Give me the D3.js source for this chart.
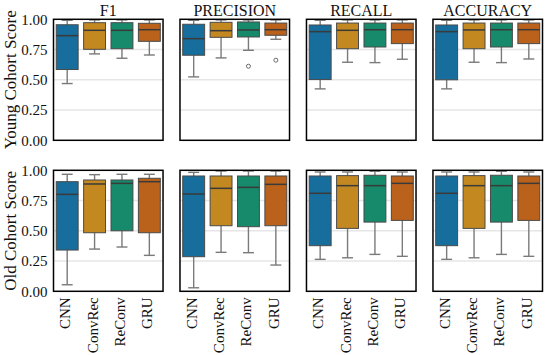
<!DOCTYPE html>
<html><head><meta charset="utf-8">
<script src="https://cdn.jsdelivr.net/npm/d3@7"></script>
<style>html,body{margin:0;padding:0;background:#fff;}</style>
</head><body>
<svg id="c" width="550" height="355"></svg>
<script>
const models = ["CNN", "ConvRec", "ReConv", "GRU"];
const metrics = ["F1", "PRECISION", "RECALL", "ACCURACY"];
const rowLabels = ["Young Cohort Score", "Old Cohort Score"];
const yTicks = [0, 0.25, 0.5, 0.75, 1.0];
const colors = ["#176d9c", "#c38820", "#168a6a", "#ba611b"];
// each entry: [whiskerLow, q1, median, q3, whiskerHigh]
const youngF1 = [[0.469,0.585,0.865,0.955,0.992],[0.714,0.752,0.909,0.972,0.995],[0.678,0.757,0.909,0.972,0.995],[0.705,0.818,0.914,0.967,0.995]];
const youngPrecision = [[0.524,0.703,0.840,0.959,0.992],[0.681,0.851,0.906,0.975,0.995],[0.744,0.854,0.912,0.978,0.995],[0.835,0.868,0.914,0.969,0.995]];
const youngRecall = [[0.425,0.502,0.898,0.953,0.992],[0.645,0.757,0.909,0.969,0.995],[0.642,0.771,0.914,0.969,0.995],[0.670,0.799,0.914,0.969,0.995]];
const youngAccuracy = [[0.425,0.500,0.898,0.953,0.992],[0.645,0.757,0.912,0.969,0.995],[0.642,0.771,0.914,0.969,0.995],[0.672,0.799,0.914,0.969,0.995]];
const oldF1 = [[0.054,0.341,0.801,0.906,0.967],[0.349,0.484,0.887,0.920,0.964],[0.366,0.500,0.892,0.920,0.967],[0.297,0.484,0.906,0.934,0.967]];
const oldPrecision = [[0.029,0.286,0.804,0.953,0.983],[0.322,0.542,0.851,0.953,0.994],[0.319,0.534,0.859,0.953,0.994],[0.217,0.542,0.884,0.953,0.994]];
const oldRecall = [[0.264,0.377,0.810,0.953,0.986],[0.277,0.520,0.873,0.956,0.986],[0.305,0.572,0.873,0.959,0.992],[0.289,0.586,0.892,0.953,0.986]];
const oldAccuracy = [[0.264,0.377,0.810,0.953,0.986],[0.277,0.520,0.873,0.956,0.986],[0.305,0.572,0.873,0.959,0.992],[0.289,0.586,0.892,0.953,0.986]];
const youngPrecisionOutliers = [[], [], [0.612], [0.662]];
const noOutliers = [[], [], [], []];

const rows = [
  {label: rowLabels[0], stats: [youngF1, youngPrecision, youngRecall, youngAccuracy],
   outliers: [noOutliers, youngPrecisionOutliers, noOutliers, noOutliers]},
  {label: rowLabels[1], stats: [oldF1, oldPrecision, oldRecall, oldAccuracy],
   outliers: [noOutliers, noOutliers, noOutliers, noOutliers]}
];

const svg = d3.select("#c");
const font = "'Liberation Serif', 'Times New Roman', serif";
const panelX = d3.scaleBand().domain(metrics).range([53.5, 542.5]).paddingInner(0.134);
const rowTop = [19.3, 170.3];
const panelH = 121;

rows.forEach((row, ri) => {
  const y = d3.scaleLinear().domain([0, 1]).range([rowTop[ri] + panelH, rowTop[ri]]);
  const cy = rowTop[ri] + panelH / 2;
  svg.append("text").attr("transform", `translate(16,${cy}) rotate(-90)`)
    .attr("text-anchor", "middle").attr("font-family", font).attr("font-size", 17)
    .attr("fill", "#111").text(row.label);
  const yAxis = d3.axisLeft(y).tickValues(yTicks).tickFormat(d3.format(".2f")).tickSize(0).tickPadding(6);
  const ga = svg.append("g").attr("transform", `translate(${panelX(metrics[0])},0)`).call(yAxis);
  ga.select(".domain").remove();
  ga.selectAll("text").attr("font-family", font).attr("font-size", 15).attr("fill", "#111");

  metrics.forEach((m, mi) => {
    const px = panelX(m), pw = panelX.bandwidth();
    const g = svg.append("g");
    const x = d3.scaleBand().domain(models).range([px, px + pw]).paddingInner(0.2).paddingOuter(0.1);
    g.selectAll("line.grid").data([0.25, 0.5, 0.75]).join("line")
      .attr("x1", px).attr("x2", px + pw).attr("y1", d => y(d)).attr("y2", d => y(d))
      .attr("stroke", "#e6e6e6").attr("stroke-width", 1.5);
    const stats = row.stats[mi];
    models.forEach((mod, k) => {
      const s = stats[k];
      const bx = x(mod), bw = x.bandwidth(), cx = bx + bw / 2;
      const wc = "#7a7a7a";
      g.append("line").attr("x1", cx).attr("x2", cx).attr("y1", y(s[0])).attr("y2", y(s[1])).attr("stroke", wc).attr("stroke-width", 1.4);
      g.append("line").attr("x1", cx).attr("x2", cx).attr("y1", y(s[3])).attr("y2", y(s[4])).attr("stroke", wc).attr("stroke-width", 1.4);
      g.append("line").attr("x1", cx - bw / 4).attr("x2", cx + bw / 4).attr("y1", y(s[0])).attr("y2", y(s[0])).attr("stroke", wc).attr("stroke-width", 1.4);
      g.append("line").attr("x1", cx - bw / 4).attr("x2", cx + bw / 4).attr("y1", y(s[4])).attr("y2", y(s[4])).attr("stroke", wc).attr("stroke-width", 1.4);
      g.append("rect").attr("x", bx).attr("width", bw).attr("y", y(s[3])).attr("height", y(s[1]) - y(s[3]))
        .attr("fill", colors[k]).attr("stroke", "#4a4a4a").attr("stroke-width", 1);
      g.append("line").attr("x1", bx).attr("x2", bx + bw).attr("y1", y(s[2])).attr("y2", y(s[2]))
        .attr("stroke", "#3a3a3a").attr("stroke-width", 1.5);
      row.outliers[mi][k].forEach(o => {
        g.append("circle").attr("cx", cx).attr("cy", y(o)).attr("r", 2)
          .attr("fill", "none").attr("stroke", "#6a6a6a").attr("stroke-width", 1);
      });
    });
    g.append("rect").attr("x", px).attr("y", rowTop[ri]).attr("width", pw).attr("height", panelH)
      .attr("fill", "none").attr("stroke", "#000").attr("stroke-width", 1.5);
    if (ri === 0) {
      svg.append("text").attr("x", px + pw / 2).attr("y", 15.5).attr("text-anchor", "middle")
        .attr("font-family", font).attr("font-size", 16).attr("fill", "#111").text(m);
    }
    if (ri === 1) {
      models.forEach(mod => {
        const cx = x(mod) + x.bandwidth() / 2;
        svg.append("text").attr("transform", `translate(${cx + 3},${rowTop[ri] + panelH + 6}) rotate(-90)`)
          .attr("text-anchor", "end").attr("font-family", font).attr("font-size", 15)
          .attr("fill", "#111").text(mod);
      });
    }
  });
});
</script>
</body></html>
